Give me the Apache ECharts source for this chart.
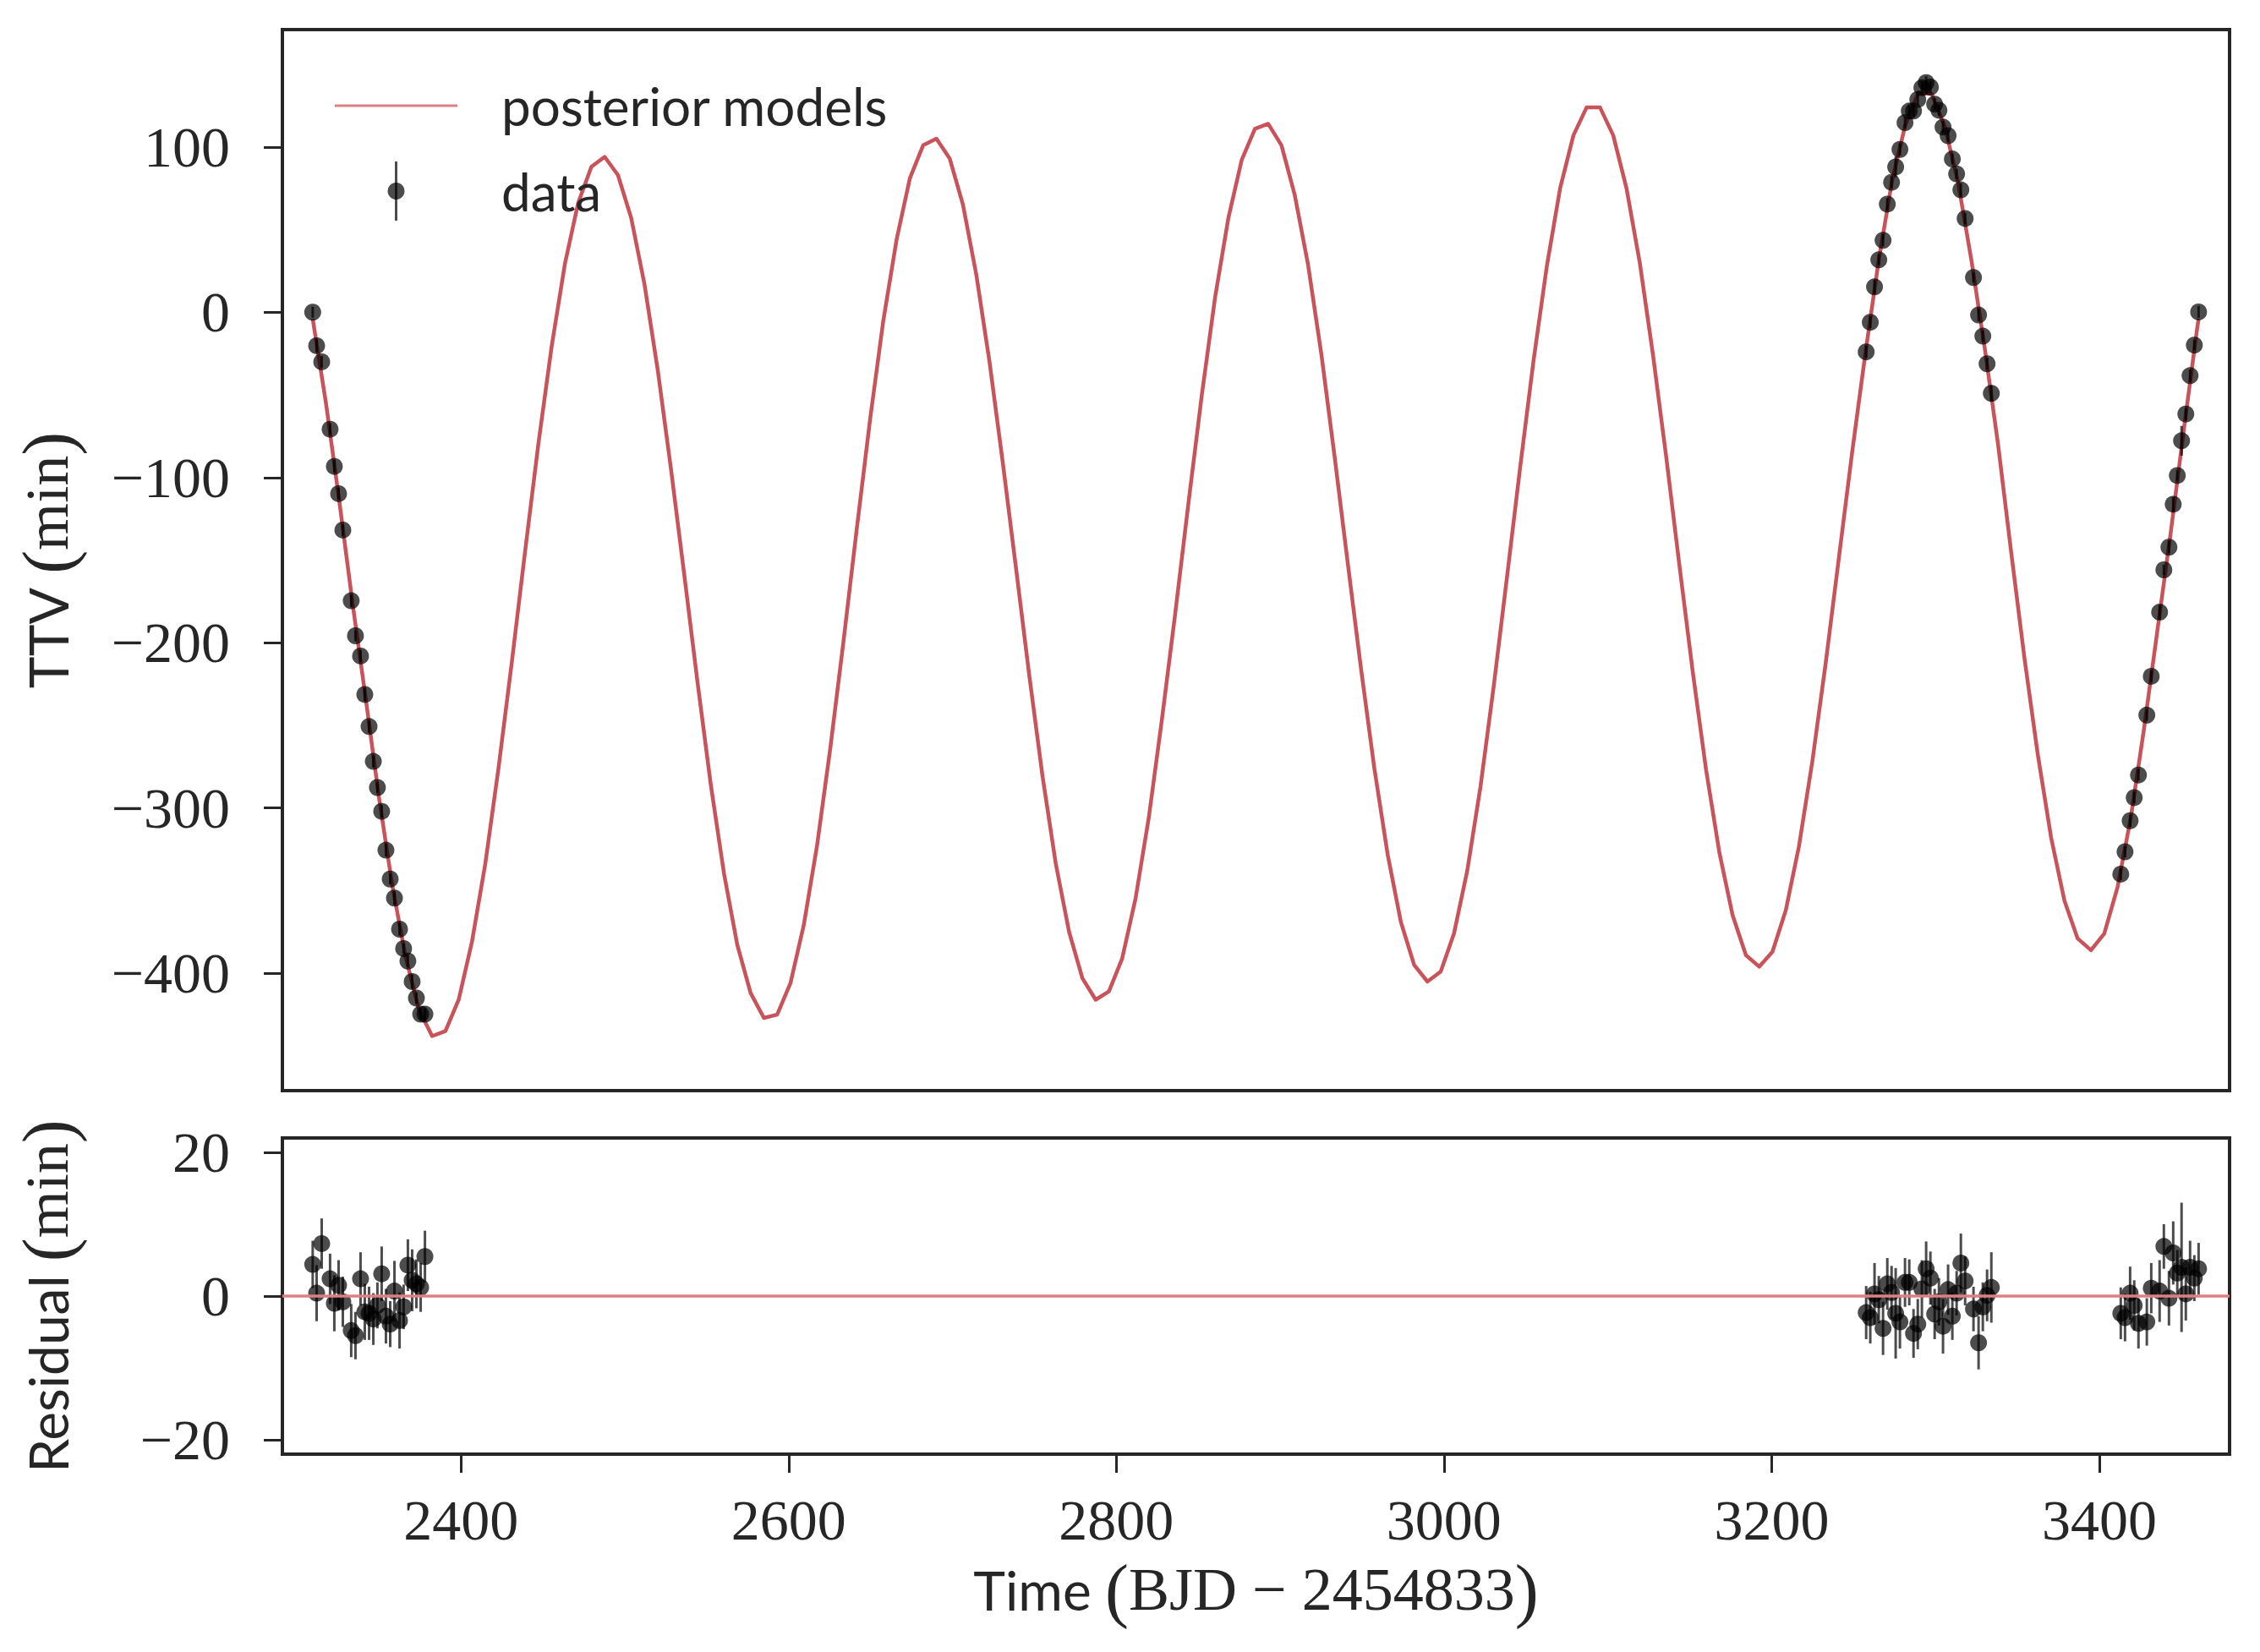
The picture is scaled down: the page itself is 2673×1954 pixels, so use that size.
<!DOCTYPE html>
<html>
<head>
<meta charset="utf-8">
<script src="https://cdn.jsdelivr.net/npm/echarts@6/dist/echarts.min.js"></script>
<style>
html,body{margin:0;padding:0;background:#ffffff;}
#chart{width:2673px;height:1954px;}
</style>
</head>
<body>
<div id="chart"></div>
<script>
// ---- Posterior model curve ----
const modelTime = [2309.5,2317.6,2325.7,2333.8,2341.9,2350.0,2358.1,2366.2,2374.3,2382.4,
 2390.5,2398.6,2406.7,2414.8,2422.9,2431.0,2439.1,2447.2,2455.3,2463.4,
 2471.5,2479.6,2487.7,2495.8,2503.9,2512.0,2520.1,2528.2,2536.3,2544.4,
 2552.5,2560.6,2568.7,2576.8,2584.9,2593.0,2601.1,2609.2,2617.3,2625.4,
 2633.5,2641.6,2649.7,2657.8,2665.9,2674.0,2682.1,2690.2,2698.3,2706.4,
 2714.5,2722.6,2730.7,2738.8,2746.9,2755.0,2763.1,2771.2,2779.3,2787.4,
 2795.5,2803.6,2811.7,2819.8,2827.9,2836.0,2844.1,2852.2,2860.3,2868.4,
 2876.5,2884.6,2892.7,2900.8,2908.9,2917.0,2925.1,2933.2,2941.3,2949.4,
 2957.5,2965.6,2973.7,2981.8,2989.9,2998.0,3006.1,3014.2,3022.3,3030.4,
 3038.5,3046.6,3054.7,3062.8,3070.9,3079.0,3087.1,3095.2,3103.3,3111.4,
 3119.5,3127.6,3135.7,3143.8,3151.9,3160.0,3168.1,3176.2,3184.3,3192.4,
 3200.5,3208.6,3216.7,3224.8,3232.9,3241.0,3249.1,3257.2,3265.3,3273.4,
 3281.5,3289.6,3297.7,3305.8,3313.9,3322.0,3330.1,3338.2,3346.3,3354.4,
 3362.5,3370.6,3378.7,3386.8,3394.9,3403.0,3411.1,3419.2,3427.3,3435.4,
 3443.5,3451.6,3459.7,3460.6];
const modelTTV = [-4,-55,-114,-176,-234,-294,-347,-390,-422,-438,
 -435,-416,-381,-334,-276,-212,-145,-80,-21,29,
 66,88,94,83,57,17,-35,-95,-159,-224,
 -286,-340,-383,-412,-427,-425,-406,-371,-323,-264,
 -199,-131,-65,-5,44,81,101,105,93,65,
 23,-30,-91,-155,-220,-281,-334,-375,-403,-416,
 -411,-391,-355,-306,-246,-182,-115,-50,9,57,
 92,111,114,101,71,29,-25,-87,-152,-216,
 -276,-328,-369,-395,-405,-399,-376,-338,-287,-226,
 -160,-93,-29,28,75,107,124,124,107,75,
 30,-26,-88,-154,-218,-277,-327,-365,-389,-396,
 -387,-362,-323,-272,-213,-149,-85,-25,31,79,
 113,133,132,112,78,31,-22,-80,-146,-210,
 -268,-318,-356,-379,-386,-376,-348,-306,-252,-193,
 -134,-71,-10,-4];

// ---- Observed transit times ----
const obsTime = [2309.5,2311.9,2315.0,2320.1,2322.7,2325.3,2327.9,2333.0,2335.6,2338.7,
 2341.3,2343.9,2346.5,2349.0,2351.6,2354.2,2356.8,2359.4,2362.5,2365.0,
 2367.6,2370.2,2372.8,2375.4,2378.0,
 3257.7,3260.2,3262.8,3265.4,3268.0,3270.6,3273.2,3275.7,3278.3,3281.4,
 3284.0,3286.6,3289.2,3291.7,3294.3,3296.9,3299.5,3302.1,3304.6,3307.7,
 3310.3,3312.9,3315.5,3318.1,3323.2,3326.3,3328.9,3331.5,3334.1,
 3413.1,3415.7,3418.8,3421.3,3423.9,3429.0,3431.7,3436.8,3439.4,3442.5,
 3445.1,3447.6,3450.2,3452.8,3455.4,3458.0,3460.6];
const obsTTV = [0,-20.3,-30,-70.8,-93.3,-109.8,-131.8,-174.6,-195.8,-208,
 -231.3,-250.7,-271.8,-287.6,-302,-325.5,-343,-354.5,-373.3,-385,
 -392.6,-405,-415,-424.7,-424.7,
 -24.0,-6.1,15.3,31.7,43.5,65.4,78.6,87.9,98.5,114.7,
 121.7,121.7,128.7,135.8,138.9,136.2,125.9,122.2,112.0,106.8,
 92.7,83.7,74.0,56.7,21.0,-1.7,-14.5,-31.2,-49.1,
 -340.0,-326.5,-307.7,-293.7,-280.0,-243.8,-220.3,-181.5,-155.9,-142.2,
 -116.2,-98.8,-77.8,-61.6,-38.4,-19.9,0.2];
const obsResid = [4.4,0.4,7.3,2.4,-1.0,1.5,-0.8,-4.8,-5.5,2.4,
 -2.2,-2.4,-3.2,-1.3,3.1,-2.8,-3.9,0.7,-3.4,-1.5,
 4.3,2.2,1.7,1.2,5.5,
 -2.3,-3.0,0.3,-0.5,-4.5,1.7,0.5,-2.4,-3.6,1.9,
 1.9,-5.2,-3.9,1.0,3.8,2.5,-2.5,-0.8,-4.2,0.9,
 -2.8,0.4,4.6,2.1,-1.8,-6.5,-1.5,0.1,1.2,
 -2.4,-3.0,0.4,-1.3,-3.8,-3.6,1.1,0.7,6.9,-0.3,
 6.0,3.2,4.0,0.3,4.0,2.5,3.8];
const obsErr = [3.3,3.9,3.5,3.5,3.9,3.5,3.5,3.7,3.3,3.7,
 3.9,3.7,3.6,3.2,3.8,3.8,3.2,4.2,3.9,3.1,
 3.6,4.3,3.4,3.4,3.6,
 3.7,3.6,4.3,3.3,3.7,3.6,3.7,6.3,3.7,3.4,
 3.2,3.4,3.5,4.0,3.8,3.7,3.5,3.3,3.8,3.5,
 3.3,3.1,4.1,3.4,3.1,3.7,3.4,3.6,4.9,
 3.6,3.3,3.7,3.5,3.5,3.3,3.5,4.3,3.1,3.8,
 4.4,3.2,9.0,3.7,3.7,3.2,3.6];

// ---- Tick labels ----
const timeTicks = [2400,2600,2800,3000,3200,3400];
const ttvTicks = [-400,-300,-200,-100,0,100];
const residTicks = [-20,0,20];

const INK = '#262626';
const SERIF = 'Liberation Serif';
const SANS = 'Lato';
const MODEL_RED = '#c9535a';
const LEGEND_RED = '#dd8083';
const DOT = 'rgba(0,0,0,0.7)';

function fmt(v){ return v < 0 ? '\u2212' + Math.abs(v) : String(v); }

const modelData = modelTime.map((t,i)=>[t, modelTTV[i]]);
const topPts = obsTime.map((t,i)=>[t, obsTTV[i], obsErr[i]]);
const resPts = obsTime.map((t,i)=>[t, obsResid[i], obsErr[i]]);

function errRender(params, api){
  const x = api.value(0), y = api.value(1), e = api.value(2);
  const a = api.coord([x, y - e]), b = api.coord([x, y + e]);
  return {type:'line', shape:{x1:a[0], y1:a[1], x2:b[0], y2:b[1]},
          style:{stroke:DOT, lineWidth:3}};
}

const nameRich = {
  s:{fontFamily:SANS, fontSize:64, color:INK},
  m:{fontFamily:SERIF, fontSize:72, color:INK},
  p:{fontFamily:SERIF, fontSize:84, color:INK}
};

const X_MIN = 2291, X_MAX = 3479.5;

const chart = echarts.init(document.getElementById('chart'), null, {renderer:'svg', width:2673, height:1954});
chart.setOption({
  backgroundColor:'#ffffff',
  animation:false,
  grid:[
    {left:334, right:36, top:35, height:1255, show:true, borderColor:INK, borderWidth:4, backgroundColor:'transparent'},
    {left:334, right:36, top:1346, height:374, show:true, borderColor:INK, borderWidth:4, backgroundColor:'transparent'}
  ],
  xAxis:[
    {gridIndex:0, type:'value', min:X_MIN, max:X_MAX, position:'bottom',
     axisLine:{show:false, onZero:false}, axisTick:{show:false}, axisLabel:{show:false}, splitLine:{show:false}},
    {gridIndex:1, type:'value', min:X_MIN, max:X_MAX, position:'bottom',
     axisLine:{show:false, onZero:false}, splitLine:{show:false},
     axisTick:{show:true, inside:false, length:22, lineStyle:{color:INK, width:3}, customValues:timeTicks},
     axisLabel:{show:true, margin:44, fontFamily:SERIF, fontSize:68, lineHeight:68, color:INK, formatter:fmt, customValues:timeTicks},
     name:'{s|Time} {p|(}{m|BJD \u2212 2454833}{p|)}', nameLocation:'middle', nameGap:118,
     nameTextStyle:{fontFamily:SANS, fontSize:64, color:INK, rich:nameRich}}
  ],
  yAxis:[
    {gridIndex:0, type:'value', min:-471, max:171, position:'left',
     axisLine:{show:false, onZero:false}, splitLine:{show:false},
     axisTick:{show:true, inside:false, length:22, lineStyle:{color:INK, width:3}, customValues:ttvTicks},
     axisLabel:{show:true, margin:62, fontFamily:SERIF, fontSize:68, lineHeight:68, color:INK, formatter:fmt, customValues:ttvTicks},
     name:'{s|TTV} {p|(}{m|min}{p|)}', nameLocation:'middle', nameRotate:90, nameGap:236,
     nameTextStyle:{fontFamily:SANS, fontSize:64, color:INK, rich:nameRich}},
    {gridIndex:1, type:'value', min:-22, max:22, position:'left',
     axisLine:{show:false, onZero:false}, splitLine:{show:false},
     axisTick:{show:true, inside:false, length:22, lineStyle:{color:INK, width:3}, customValues:residTicks},
     axisLabel:{show:true, margin:62, fontFamily:SERIF, fontSize:68, lineHeight:68, color:INK, formatter:fmt, customValues:residTicks},
     name:'{s|Residual} {p|(}{m|min}{p|)}', nameLocation:'middle', nameRotate:90, nameGap:236,
     nameTextStyle:{fontFamily:SANS, fontSize:64, color:INK, rich:nameRich}}
  ],
  legend:{
    show:true, orient:'vertical', left:396, top:92, padding:0, itemGap:35,
    itemWidth:145, itemHeight:20, selectedMode:false, symbolKeepAspect:true,
    textStyle:{fontFamily:SANS, fontSize:62, color:INK, lineHeight:66, padding:[0,0,0,47]},
    data:[
      {name:'posterior models', icon:'path://M0,0L145,0L145,3L0,3Z', itemStyle:{color:LEGEND_RED, opacity:1}},
      {name:'data', icon:'circle'}
    ]
  },
  graphic:[
    {type:'line', shape:{x1:468.5, y1:191, x2:468.5, y2:261}, style:{stroke:DOT, lineWidth:3}, z:100}
  ],
  series:[
    {name:'posterior models', type:'line', xAxisIndex:0, yAxisIndex:0, data:modelData,
     showSymbol:false, symbol:'none', smooth:false, z:2,
     lineStyle:{color:MODEL_RED, width:4.5, join:'round'}, itemStyle:{color:MODEL_RED}},
    {name:'topErr', type:'custom', xAxisIndex:0, yAxisIndex:0, data:topPts,
     encode:{x:0, y:1}, renderItem:errRender, z:3, silent:true},
    {name:'data', type:'scatter', xAxisIndex:0, yAxisIndex:0, data:topPts.map(p=>[p[0],p[1]]),
     symbol:'circle', symbolSize:20, z:4, itemStyle:{color:'#000000', opacity:0.7}},
    {name:'zero', type:'line', xAxisIndex:1, yAxisIndex:1, data:[], z:1,
     markLine:{silent:true, symbol:['none','none'], label:{show:false},
       lineStyle:{color:LEGEND_RED, width:3.5, type:'solid'}, data:[{yAxis:0}]}},
    {name:'resErr', type:'custom', xAxisIndex:1, yAxisIndex:1, data:resPts,
     encode:{x:0, y:1}, renderItem:errRender, z:3, silent:true},
    {name:'residuals', type:'scatter', xAxisIndex:1, yAxisIndex:1, data:resPts.map(p=>[p[0],p[1]]),
     symbol:'circle', symbolSize:20, z:4, itemStyle:{color:'#000000', opacity:0.7}}
  ]
});
</script>
</body>
</html>
